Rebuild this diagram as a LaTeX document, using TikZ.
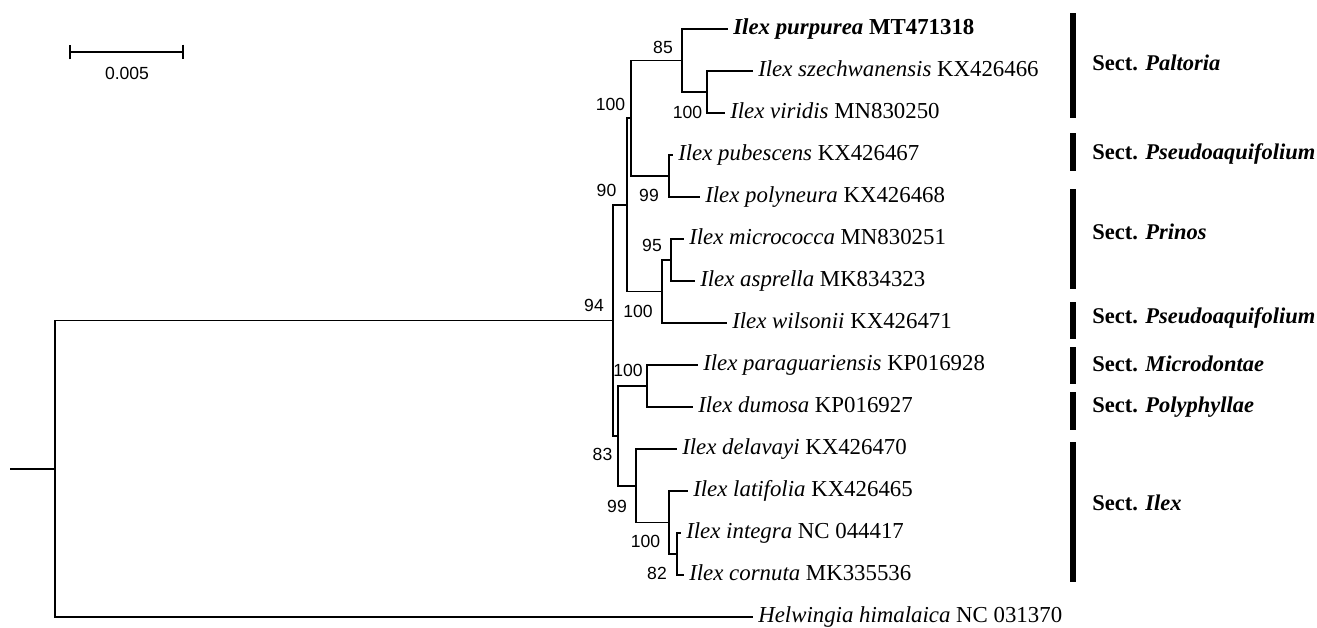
\documentclass[tikz,border=0pt]{standalone}
\usepackage{fontspec}
\setmainfont{Liberation Serif}
\setsansfont{Liberation Sans}
\usetikzlibrary{arrows.meta}

\begin{document}
\begin{tikzpicture}[x=0.02cm, y=-0.02cm,
		branch/.style={line width=1pt},
		leaf/.style={anchor=west, inner xsep=3pt, inner ysep=0pt, outer sep=0pt, text height=0.66em, text depth=0pt, font=\fontsize{13}{15}\selectfont},
		boot/.style={inner sep=0pt, text height=0.72em, text depth=0pt, font=\sffamily\fontsize{10}{12}\selectfont},
		secbar/.style={line width=3.4pt},
		sect/.style={anchor=west, inner sep=0pt, text height=0.66em, text depth=0pt, font=\bfseries\fontsize{12.8}{15}\selectfont}]
			\useasboundingbox (0,0) rectangle (1317,627);

			% Thang do
			\coordinate (sbL) at (69,52);
			\coordinate (sbR) at (184,52);
			\draw[branch, {Bar[width=8.5pt]}-{Bar[width=8.5pt]}] (sbL) -- (sbR);
			\node[boot] (sbtext) at (127,73) {0.005};

			% Cac la (ten loai)
			\node[leaf] (purpurea) at (728,29) {\textbf{\textit{Ilex purpurea} MT471318}};
			\node[leaf] (szechwanensis) at (753,71) {\textit{Ilex szechwanensis} KX426466};
			\node[leaf] (viridis) at (725,113) {\textit{Ilex viridis} MN830250};
			\node[leaf] (pubescens) at (673,155) {\textit{Ilex pubescens} KX426467};
			\node[leaf] (polyneura) at (700,197) {\textit{Ilex polyneura} KX426468};
			\node[leaf] (micrococca) at (684,239) {\textit{Ilex micrococca} MN830251};
			\node[leaf] (asprella) at (695,281) {\textit{Ilex asprella} MK834323};
			\node[leaf] (wilsonii) at (727,323) {\textit{Ilex wilsonii} KX426471};
			\node[leaf] (paraguariensis) at (698,365) {\textit{Ilex paraguariensis} KP016928};
			\node[leaf] (dumosa) at (693,407) {\textit{Ilex dumosa} KP016927};
			\node[leaf] (delavayi) at (677,449) {\textit{Ilex delavayi} KX426470};
			\node[leaf] (latifolia) at (688,491) {\textit{Ilex latifolia} KX426465};
			\node[leaf] (integra) at (681,533) {\textit{Ilex integra} NC 044417};
			\node[leaf] (cornuta) at (684,575) {\textit{Ilex cornuta} MK335536};
			\node[leaf] (helwingia) at (753,617) {\textit{Helwingia himalaica} NC 031370};

			% Cac nut trong
			\coordinate (nv) at (707,92);
			\coordinate (n85) at (682,60.5);
			\coordinate (n99p) at (669,176);
			\coordinate (n100a) at (631,118);
			\coordinate (n95) at (671,260);
			\coordinate (n100w) at (662,291.5);
			\coordinate (n90) at (627,205);
			\coordinate (n100p) at (647,386);
			\coordinate (n82) at (677,554);
			\coordinate (n100c) at (669,522.5);
			\coordinate (n99d) at (636,486);
			\coordinate (n83) at (618,436);
			\coordinate (n94) at (613,320.5);
			\coordinate (root) at (55,469);
			\coordinate (stub) at (10,469);

			% Cac nhanh
			\draw[branch] (nv) |- (szechwanensis.west);
			\draw[branch] (nv) |- (viridis.west);
			\draw[branch] (n85) |- (purpurea.west);
			\draw[branch] (n85) |- (nv);
			\draw[branch] (n99p) |- (pubescens.west);
			\draw[branch] (n99p) |- (polyneura.west);
			\draw[branch] (n100a) |- (n85);
			\draw[branch] (n100a) |- (n99p);
			\draw[branch] (n95) |- (micrococca.west);
			\draw[branch] (n95) |- (asprella.west);
			\draw[branch] (n100w) |- (n95);
			\draw[branch] (n100w) |- (wilsonii.west);
			\draw[branch] (n90) |- (n100a);
			\draw[branch] (n90) |- (n100w);
			\draw[branch] (n100p) |- (paraguariensis.west);
			\draw[branch] (n100p) |- (dumosa.west);
			\draw[branch] (n82) |- (integra.west);
			\draw[branch] (n82) |- (cornuta.west);
			\draw[branch] (n100c) |- (latifolia.west);
			\draw[branch] (n100c) |- (n82);
			\draw[branch] (n99d) |- (delavayi.west);
			\draw[branch] (n99d) |- (n100c);
			\draw[branch] (n83) |- (n100p);
			\draw[branch] (n83) |- (n99d);
			\draw[branch] (n94) |- (n90);
			\draw[branch] (n94) |- (n83);
			\draw[branch] (root) |- (n94);
			\draw[branch] (root) |- (helwingia.west);
			\draw[branch] (stub) -- (root);

			% Gia tri bootstrap
			\node[boot] (bs85) at (663,47) {85};
			\node[boot] (bsv) at (687.5,112) {100};
			\node[boot] (bsa) at (610.5,104.5) {100};
			\node[boot] (bs99p) at (649,195) {99};
			\node[boot] (bs90) at (606.5,190.5) {90};
			\node[boot] (bs95) at (652,245) {95};
			\node[boot] (bsw) at (638,311) {100};
			\node[boot] (bs94) at (594,305) {94};
			\node[boot] (bsp) at (628,370) {100};
			\node[boot] (bs83) at (602.5,454) {83};
			\node[boot] (bs99d) at (617,506) {99};
			\node[boot] (bsc) at (645.5,541.5) {100};
			\node[boot] (bs82) at (657,573.5) {82};

			% Cac section
			\draw[secbar] (1073,13) -- (1073,118);
			\draw[secbar] (1073,133) -- (1073,171);
			\draw[secbar] (1073,189) -- (1073,289);
			\draw[secbar] (1073,302) -- (1073,339);
			\draw[secbar] (1073,347) -- (1073,384);
			\draw[secbar] (1073,392) -- (1073,430);
			\draw[secbar] (1073,442) -- (1073,582);
			\node[sect] (sPaltoria) at (1092,65) {Sect. \textit{Paltoria}};
			\node[sect] (sPseudoA) at (1092,154) {Sect. \textit{Pseudoaquifolium}};
			\node[sect] (sPrinos) at (1092,234) {Sect. \textit{Prinos}};
			\node[sect] (sPseudoB) at (1092,318) {Sect. \textit{Pseudoaquifolium}};
			\node[sect] (sMicro) at (1092,366) {Sect. \textit{Microdontae}};
			\node[sect] (sPoly) at (1092,407) {Sect. \textit{Polyphyllae}};
			\node[sect] (sIlex) at (1092,505) {Sect. \textit{Ilex}};
		\end{tikzpicture}
\end{document}
